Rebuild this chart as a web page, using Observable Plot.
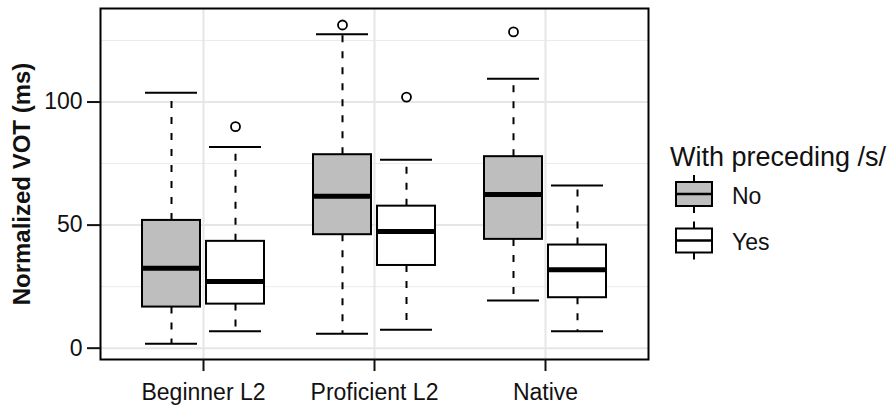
<!DOCTYPE html>
<html>
<head>
<meta charset="utf-8">
<script src="https://cdn.jsdelivr.net/npm/d3@7"></script>
<script src="https://cdn.jsdelivr.net/npm/@observablehq/plot@0.6"></script>
<style>
  body { margin: 0; background: #fff; }
  #wrap { position: relative; width: 889px; height: 406px; font-family: "Liberation Sans", Arial, Helvetica, sans-serif; }
  #wrap > svg.chart { position: absolute; left: 0; top: 0; }
  #wrap > svg#legend { position: absolute; left: 660px; top: 130px; }
</style>
</head>
<body>
<div id="wrap"></div>
<script>
// ---- Data ----
const groups = ["Beginner L2", "Proficient L2", "Native"];
const preceding = ["No", "Yes"];

const lowerNo  = [1.8, 5.9, 19.4];
const q1No     = [16.7, 46.1, 44.2];
const medianNo = [32.5, 61.7, 62.4];
const q3No     = [51.9, 78.6, 77.8];
const upperNo  = [103.8, 127.5, 109.5];

const lowerYes  = [6.9, 7.5, 6.9];
const q1Yes     = [17.9, 33.6, 20.5];
const medianYes = [27.1, 47.4, 31.9];
const q3Yes     = [43.4, 57.7, 41.9];
const upperYes  = [81.7, 76.6, 66.1];

const outlierGroup     = ["Proficient L2", "Native", "Beginner L2", "Proficient L2"];
const outlierPreceding = ["No", "No", "Yes", "Yes"];
const outlierValue     = [131.3, 128.5, 90, 102];

const yMajorTicks = [0, 50, 100];
const yMinorTicks = [25, 75, 125];

const yTitle = "Normalized VOT (ms)";
const legendTitle = "With preceding /s/";

// ---- Build tables ----
const stats = {
  No:  {lower: lowerNo,  q1: q1No,  median: medianNo,  q3: q3No,  upper: upperNo},
  Yes: {lower: lowerYes, q1: q1Yes, median: medianYes, q3: q3Yes, upper: upperYes}
};
const rows = [];
for (const p of preceding) {
  groups.forEach((g, i) => {
    const s = stats[p];
    rows.push({group: g, preceding: p, lower: s.lower[i], q1: s.q1[i], median: s.median[i], q3: s.q3[i], upper: s.upper[i]});
  });
}
const outliers = outlierValue.map((v, i) => ({group: outlierGroup[i], preceding: outlierPreceding[i], value: v}));

const fillOf = {No: "#bebebe", Yes: "#ffffff"};
const dodge = {No: -32, Yes: 32};

const boxMarks = [];
for (const p of preceding) {
  const r = rows.filter(d => d.preceding === p);
  const o = outliers.filter(d => d.preceding === p);
  const dx = dodge[p];
  boxMarks.push(
    Plot.ruleX(r, {x: "group", y1: "q3", y2: "upper", dx, stroke: "black", strokeWidth: 2, strokeDasharray: "7,9"}),
    Plot.ruleX(r, {x: "group", y1: "q1", y2: "lower", dx, stroke: "black", strokeWidth: 2, strokeDasharray: "7,9"}),
    Plot.tickY(r, {x: "group", y: "upper", dx, insetLeft: 3, insetRight: 3, stroke: "black", strokeWidth: 2}),
    Plot.tickY(r, {x: "group", y: "lower", dx, insetLeft: 3, insetRight: 3, stroke: "black", strokeWidth: 2}),
    Plot.barY(r, {x: "group", y1: "q1", y2: "q3", dx, fill: fillOf[p], stroke: "black", strokeWidth: 2}),
    Plot.tickY(r, {x: "group", y: "median", dx, stroke: "black", strokeWidth: 5}),
    Plot.dot(o, {x: "group", y: "value", dx, r: 4.5, stroke: "black", strokeWidth: 1.8, fill: "white"})
  );
}

const chart = Plot.plot({
  width: 889,
  height: 406,
  marginLeft: 100,
  marginRight: 241,
  marginTop: 8,
  marginBottom: 47,
  className: "chart",
  style: {fontFamily: "'Liberation Sans', Arial, Helvetica, sans-serif", fontSize: "23px", color: "#111", background: "white"},
  x: {domain: groups, paddingInner: 0.661, paddingOuter: 0.428, align: 0.5, label: null},
  y: {domain: [-4.6, 138], label: null},
  marks: [
    Plot.gridY(yMinorTicks, {stroke: "#ebebeb", strokeOpacity: 1, strokeWidth: 1}),
    Plot.gridY(yMajorTicks, {stroke: "#e6e6e6", strokeOpacity: 1, strokeWidth: 2}),
    Plot.gridX(groups, {stroke: "#e6e6e6", strokeOpacity: 1, strokeWidth: 2}),
    ...boxMarks,
    Plot.frame({stroke: "black", strokeWidth: 2}),
    Plot.axisY(yMajorTicks, {tickSize: 13, tickPadding: 5, strokeWidth: 2, label: null, fontSize: 23}),
    Plot.axisX({tickSize: 12, tickPadding: 12, strokeWidth: 2, label: null, fontSize: 23}),
    Plot.text([yTitle], {frameAnchor: "left", textAnchor: "middle", rotate: -90, dx: -78, fontWeight: "bold", fontSize: 24, fill: "#111"})
  ]
});

const wrap = document.getElementById("wrap");
chart.classList.add("chart");
wrap.appendChild(chart);

// ---- Legend ----
const leg = d3.select(wrap).append("svg").attr("id", "legend").attr("width", 229).attr("height", 140)
  .style("font-family", "'Liberation Sans', Arial, Helvetica, sans-serif");
leg.append("text").attr("x", 10).attr("y", 35.5).attr("font-size", 27).attr("fill", "#111").text(legendTitle);
preceding.forEach((p, i) => {
  const top = 52 + i * 46.5;
  const g = leg.append("g");
  g.append("line").attr("x1", 34).attr("x2", 34).attr("y1", top - 7).attr("y2", top + 31).attr("stroke", "black").attr("stroke-width", 2);
  g.append("rect").attr("x", 16).attr("y", top).attr("width", 36).attr("height", 24)
    .attr("fill", fillOf[p]).attr("stroke", "black").attr("stroke-width", 2);
  g.append("line").attr("x1", 16).attr("x2", 52).attr("y1", top + 12).attr("y2", top + 12).attr("stroke", "black").attr("stroke-width", 2.5);
  g.append("text").attr("x", 72).attr("y", top + 21.5).attr("font-size", 23).attr("fill", "#111").text(p);
});
</script>
</body>
</html>
